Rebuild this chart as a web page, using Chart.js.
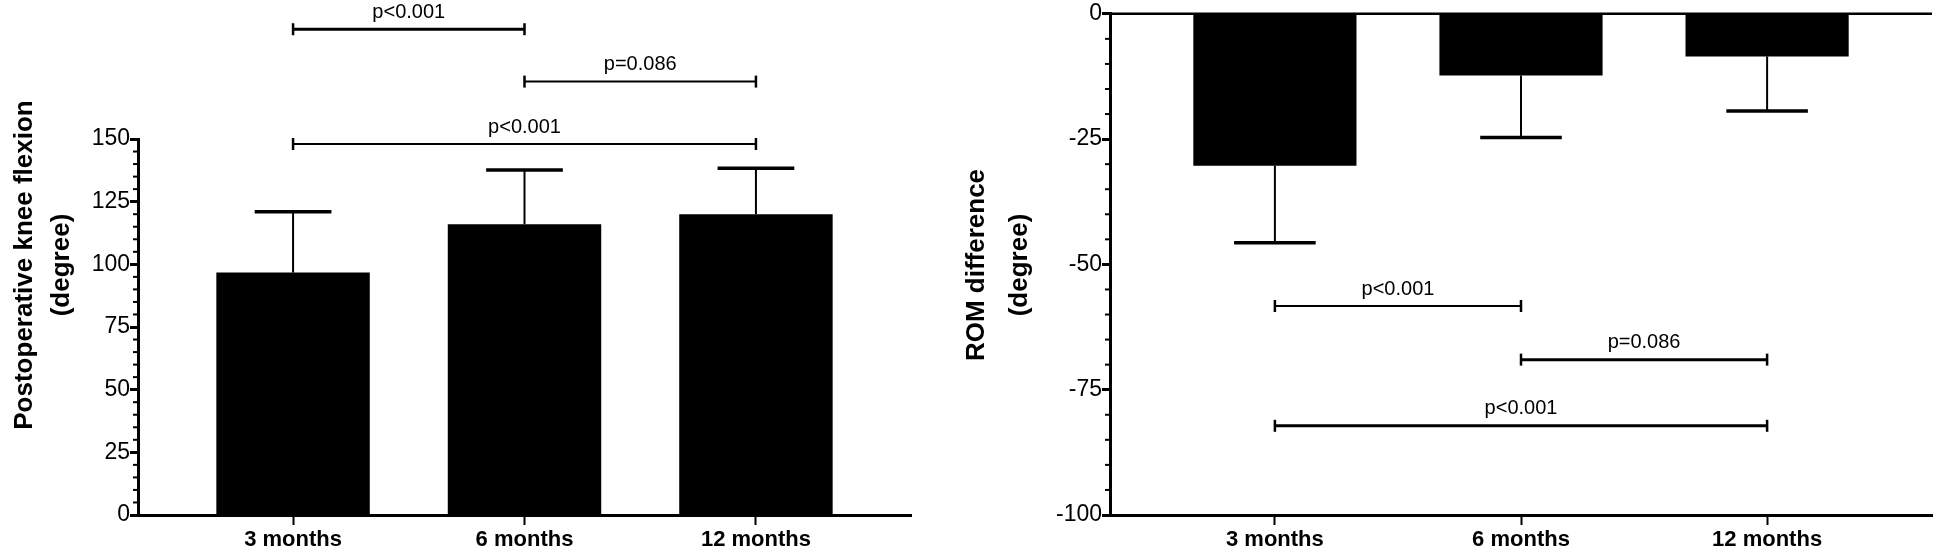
<!DOCTYPE html>
<html>
<head>
<meta charset="utf-8">
<script src="https://cdn.jsdelivr.net/npm/chart.js@4"></script>
<style>
    body { margin: 0; background: #fff; }
    #left { position: absolute; left: 0; top: 0; width: 930px; height: 553px; }
    #right { position: absolute; left: 930px; top: 0; width: 1016px; height: 553px; }
</style>
</head>
<body>
<div id="left"><canvas id="diagram1"></canvas></div>
<div id="right"><canvas id="diagram2"></canvas></div>
<script>
const labels = ['3 months', '6 months', '12 months'];

// postoperative knee flexion, mean and SD (degree)
const flexionMean = [96.7, 116.0, 120.0];
const flexionSD = [24.3, 21.6, 18.3];

// ROM difference, mean and SD (degree)
const romMean = [-30.3, -12.3, -8.5];
const romSD = [15.4, 12.4, 10.9];

// significance brackets: compared groups (1 = 3 months), p text, level in degree
const flexionPairs = [[1, 2], [2, 3], [1, 3]];
const flexionP = ['p<0.001', 'p=0.086', 'p<0.001'];
const flexionLevel = [193.8, 172.9, 148.0];

const romPairs = [[1, 2], [2, 3], [1, 3]];
const romP = ['p<0.001', 'p=0.086', 'p<0.001'];
const romLevel = [-58.3, -69.0, -82.2];

const FONT = '"Liberation Sans", Arial, sans-serif';

function line(ctx, x1, y1, x2, y2) {
    ctx.beginPath();
    ctx.moveTo(x1, y1);
    ctx.lineTo(x2, y2);
    ctx.stroke();
}

const extras = {
    id: 'extras',
    afterDatasetsDraw(chart, args, o) {
        const ctx = chart.ctx;
        const xs = chart.scales.x;
        const ys = chart.scales.y;
        const area = chart.chartArea;
        ctx.save();
        ctx.strokeStyle = '#000';
        ctx.fillStyle = '#000';
        ctx.lineCap = 'butt';

        if (o.zeroLine) {
            ctx.lineWidth = 2.5;
            const y0 = ys.getPixelForValue(0);
            line(ctx, area.left, y0, area.right, y0);
        }

        // error bars (one side only)
        const meta = chart.getDatasetMeta(0);
        meta.data.forEach((bar, i) => {
            const mean = o.mean[i];
            const yA = ys.getPixelForValue(mean);
            const yB = ys.getPixelForValue(mean + o.dir * o.sd[i]);
            const half = bar.width / 4;
            ctx.lineWidth = 2;
            line(ctx, bar.x, yA, bar.x, yB);
            ctx.lineWidth = 3.5;
            line(ctx, bar.x - half, yB, bar.x + half, yB);
        });

        // minor ticks on y axis
        ctx.lineWidth = 2;
        for (let v = ys.min; v <= ys.max; v += 5) {
            if (v % 25 === 0) continue;
            const py = ys.getPixelForValue(v);
            line(ctx, area.left - 5, py, area.left, py);
        }

        // significance brackets
        ctx.font = '20px ' + FONT;
        ctx.textAlign = 'center';
        ctx.textBaseline = 'middle';
        o.pairs.forEach((p, i) => {
            const xa = xs.getPixelForValue(p[0]);
            const xb = xs.getPixelForValue(p[1]);
            const py = ys.getPixelForValue(o.levels[i]);
            ctx.lineWidth = o.widths[i];
            line(ctx, xa, py, xb, py);
            ctx.lineWidth = 2.5;
            line(ctx, xa, py - 6, xa, py + 6);
            line(ctx, xb, py - 6, xb, py + 6);
            ctx.fillText(o.texts[i], (xa + xb) / 2, py - 17);
        });

        // axis title, two lines
        ctx.font = 'bold 26px ' + FONT;
        o.title.forEach((t, i) => {
            ctx.save();
            ctx.translate(o.titleX[i], 265);
            ctx.rotate(-Math.PI / 2);
            ctx.fillText(t, 0, 0);
            ctx.restore();
        });
        ctx.restore();
    }
};

function makeChart(id, mean, cfg) {
    return new Chart(document.getElementById(id), {
        type: 'bar',
        data: {
            datasets: [{
                data: mean.map((v, i) => ({ x: i + 1, y: v })),
                backgroundColor: '#000',
                borderWidth: 0,
                categoryPercentage: 1,
                barPercentage: 0.663
            }]
        },
        options: {
            responsive: true,
            maintainAspectRatio: false,
            animation: false,
            layout: { padding: { left: 0, top: cfg.top, right: cfg.right, bottom: 0 } },
            plugins: {
                legend: { display: false },
                tooltip: { enabled: false },
                extras: cfg.extras
            },
            scales: {
                x: {
                    type: 'linear',
                    bounds: 'data',
                    offset: false,
                    min: 0.33,
                    max: 3.67,
                    afterBuildTicks: s => { s.ticks = labels.map((_, i) => ({ value: i + 1 })); },
                    afterFit: s => { s.height = 38; },
                    ticks: {
                        callback: v => labels[v - 1],
                        color: '#000',
                        font: { family: FONT, size: 22, weight: 'bold' },
                        padding: 2,
                        autoSkip: false,
                        maxRotation: 0
                    },
                    grid: { offset: false, drawOnChartArea: false, tickLength: 10, tickWidth: 2, tickColor: '#000' },
                    border: { display: true, width: 3, color: '#000' }
                },
                y: {
                    min: cfg.min,
                    max: cfg.max,
                    afterFit: s => { s.width = cfg.yWidth; },
                    ticks: {
                        stepSize: 25,
                        color: '#000',
                        font: { family: FONT, size: 23 },
                        padding: 0
                    },
                    grid: { drawOnChartArea: false, tickLength: 8, tickWidth: 3, tickColor: '#000' },
                    border: { display: true, width: 3, color: '#000' }
                }
            }
        },
        plugins: [extras]
    });
}

makeChart('diagram1', flexionMean, {
    min: 0, max: 150, top: 139, right: 19, yWidth: 138,
    extras: {
        mean: flexionMean, sd: flexionSD, dir: 1, zeroLine: false,
        pairs: flexionPairs, texts: flexionP, levels: flexionLevel, widths: [3, 2, 2],
        title: ['Postoperative knee flexion', '(degree)'], titleX: [25, 62]
    }
});

makeChart('diagram2', romMean, {
    min: -100, max: 0, top: 13, right: 14, yWidth: 180,
    extras: {
        mean: romMean, sd: romSD, dir: -1, zeroLine: true,
        pairs: romPairs, texts: romP, levels: romLevel, widths: [2, 3, 3],
        title: ['ROM difference', '(degree)'], titleX: [47, 90]
    }
});
</script>
</body>
</html>
